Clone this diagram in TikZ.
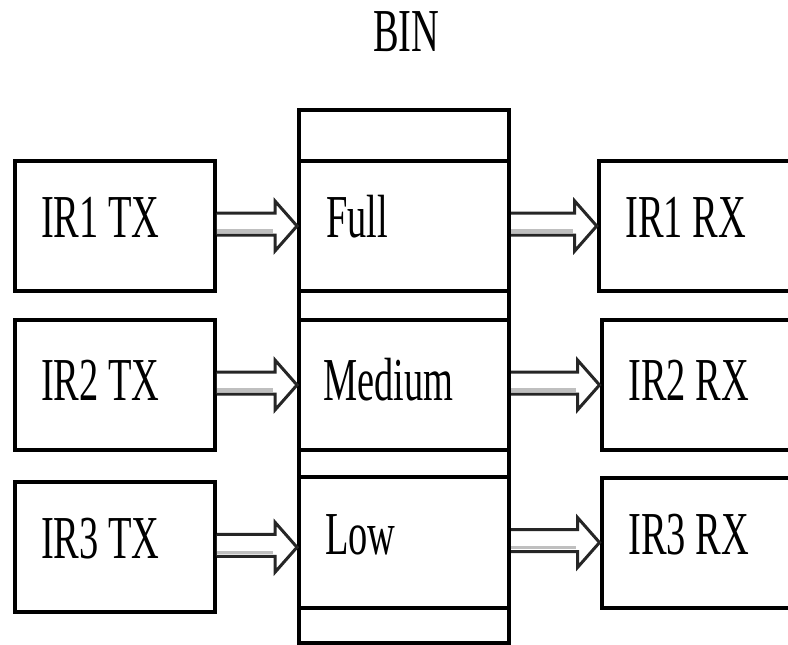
\documentclass[tikz,border=0pt]{standalone}
\usepackage{fontspec}
\newfontfamily\lblfont[FakeStretch=0.63]{Liberation Serif}
\usetikzlibrary{calc}

\tikzset{
  box/.style={draw,line width=4pt,minimum width=200pt,minimum height=130pt,inner sep=0pt},
  cell/.style={draw,line width=4pt,minimum width=210pt,minimum height=130pt,inner sep=0pt},
  lbl/.style={font=\lblfont\fontsize{61}{70}\selectfont,anchor=base west,inner sep=0pt},
  arrowbody/.style={draw=black!85,line width=3pt,fill=white},
  arrowshade/.style={draw=black!25,line width=3.5pt},
}

% hollow block arrow: #1 start, #2 tip (same height)
\newcommand{\blockarrow}[2]{%
  \draw[arrowbody] ($(#1)+(0,9)$) -- ($(#2)+(-22,9)$) -- ($(#2)+(-22,25)$) -- (#2)
    -- ($(#2)+(-22,-25)$) -- ($(#2)+(-22,-13)$) -- ($(#1)+(0,-13)$);
  \draw[arrowshade] ($(#1)+(0,5)$) -- ($(#2)+(-24,5)$);
}

\begin{document}
\begin{tikzpicture}[x=1pt,y=-1pt]
\useasboundingbox (0,0) rectangle (788,645);
\clip (0,0) rectangle (788,645);

% the bin
\node[lbl] (bintitle) at (373,51) {BIN};
\node[draw,line width=4pt,minimum width=210pt,minimum height=533pt,inner sep=0pt] (bin) at (404,376.5) {};
\node[cell] (full) at (404,226) {};
\node[cell] (medium) at (404,385) {};
\node[cell,minimum height=131pt] (low) at (404,542.5) {};
\node[lbl] (fulltxt) at (326,237) {Full};
\node[lbl] (mediumtxt) at (323,400) {Medium};
\node[lbl] (lowtxt) at (325,554) {Low};

% transmitters
\node[box] (tx1) at (114.75,226) {};
\node[box] (tx2) at (114.75,385) {};
\node[box] (tx3) at (114.75,547.25) {};
\node[lbl] (tx1txt) at (41,237) {IR1 TX};
\node[lbl] (tx2txt) at (41,400) {IR2 TX};
\node[lbl] (tx3txt) at (41,558) {IR3 TX};

% receivers
\node[box,minimum width=210pt] (rx1) at (703.7,226) {};
\node[box,minimum width=210pt] (rx2) at (706.5,385) {};
\node[box,minimum width=210pt] (rx3) at (706.5,542.5) {};
\node[lbl] (rx1txt) at (625,237) {IR1 RX};
\node[lbl] (rx2txt) at (628,400) {IR2 RX};
\node[lbl] (rx3txt) at (628,554) {IR3 RX};

\blockarrow{tx1.east}{tx1.east -| full.west}
\blockarrow{tx2.east}{tx2.east -| medium.west}
\blockarrow{tx3.east}{tx3.east -| low.west}
\blockarrow{full.east}{full.east -| rx1.west}
\blockarrow{medium.east}{medium.east -| rx2.west}
\blockarrow{low.east}{low.east -| rx3.west}
\end{tikzpicture}
\end{document}
